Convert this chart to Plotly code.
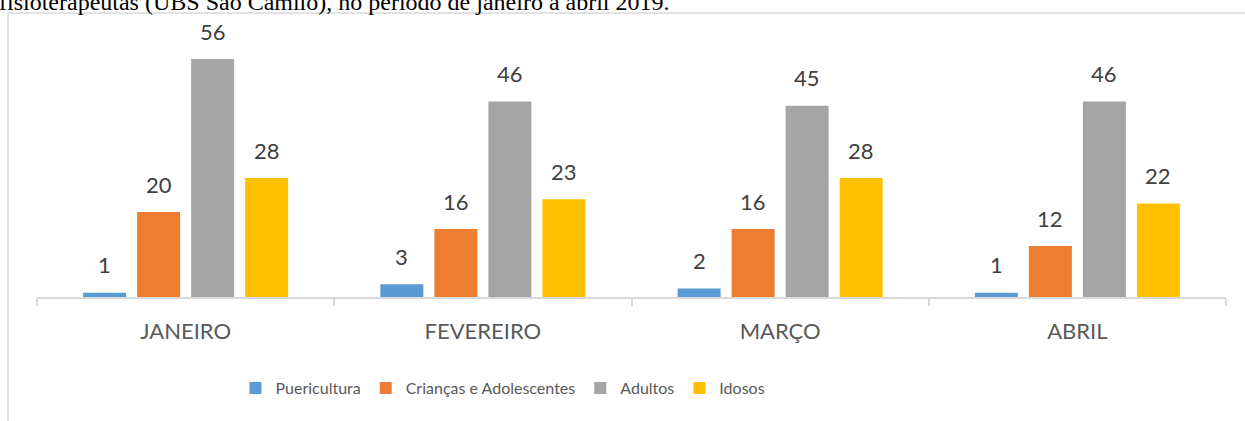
import plotly.graph_objects as go

months = ["JANEIRO", "FEVEREIRO", "MARÇO", "ABRIL"]
series_names = ["Puericultura", "Crianças e Adolescentes", "Adultos", "Idosos"]
puericultura = [1, 3, 2, 1]
criancas = [20, 16, 16, 12]
adultos = [56, 46, 45, 46]
idosos = [28, 23, 28, 22]
colors = ["#5B9BD5", "#ED7D31", "#A5A5A5", "#FFC000"]
caption = "fisioterapeutas (UBS São Camilo), no período de janeiro a abril 2019."

values = [puericultura, criancas, adultos, idosos]

W, H = 1245, 421
ML, MR, MT, MB = 37, 19, 42, 124
BARGAP = 0.273
plot_w = W - ML - MR
plot_h = H - MT - MB
cat_w = plot_w / len(months)
slot = cat_w * (1 - BARGAP) / len(series_names)

fig = go.Figure()
for name, vals, col in zip(series_names, values, colors):
    fig.add_trace(go.Bar(name=name, x=months, y=vals, marker=dict(color=col, line=dict(width=0))))

annotations = []
for i, vals in enumerate(values):
    for m, v in zip(months, vals):
        annotations.append(dict(
            x=m, y=v, xref="x", yref="y", text=str(v), showarrow=False,
            xshift=(i - 1.5) * slot, yshift=28, yanchor="middle",
            font=dict(family="Lato", size=22, color="#404040")))

annotations.append(dict(
    x=-ML / plot_w, y=1, xref="paper", yref="paper", xanchor="left", yanchor="bottom",
    yshift=25, xshift=-3, text=caption, showarrow=False,
    font=dict(family="Liberation Serif", size=24, color="#000000")))

shapes = [
    dict(type="line", xref="paper", yref="paper",
         x0=(8 - ML) / plot_w, x1=(8 - ML) / plot_w,
         y0=(plot_h + MT - 13) / plot_h, y1=-1.0,
         line=dict(color="#d9d9d9", width=1.5)),
    dict(type="line", xref="paper", yref="paper",
         x0=(8 - ML) / plot_w, x1=1.2,
         y0=(plot_h + MT - 13) / plot_h, y1=(plot_h + MT - 13) / plot_h,
         line=dict(color="#d9d9d9", width=1.5)),
]

fig.update_layout(
    width=W, height=H,
    margin=dict(l=ML, r=MR, t=MT, b=MB, pad=0),
    paper_bgcolor="white", plot_bgcolor="white",
    barmode="group", bargap=BARGAP, bargroupgap=0.204,
    font=dict(family="Lato", color="#595959"),
    showlegend=True,
    legend=dict(orientation="h", x=(503 - ML) / plot_w, xanchor="center",
                y=(MT + plot_h - 388) / plot_h, yanchor="middle",
                font=dict(family="Lato", size=16, color="#595959"),
                itemwidth=30, traceorder="normal"),
    annotations=annotations,
    shapes=shapes,
)
fig.update_xaxes(showline=True, linecolor="#d9d9d9", linewidth=1.5,
                 ticks="outside", tickson="boundaries", ticklen=7,
                 tickcolor="#d9d9d9", tickwidth=1.5,
                 tickfont=dict(family="Lato", size=22, color="#595959"),
                 ticklabelstandoff=14, showgrid=False)
fig.update_yaxes(range=[0, 60], visible=False, showgrid=False, zeroline=False)

fig.write_html("out.html", config={"displayModeBar": False},
               post_script="document.body.style.margin='0';")
